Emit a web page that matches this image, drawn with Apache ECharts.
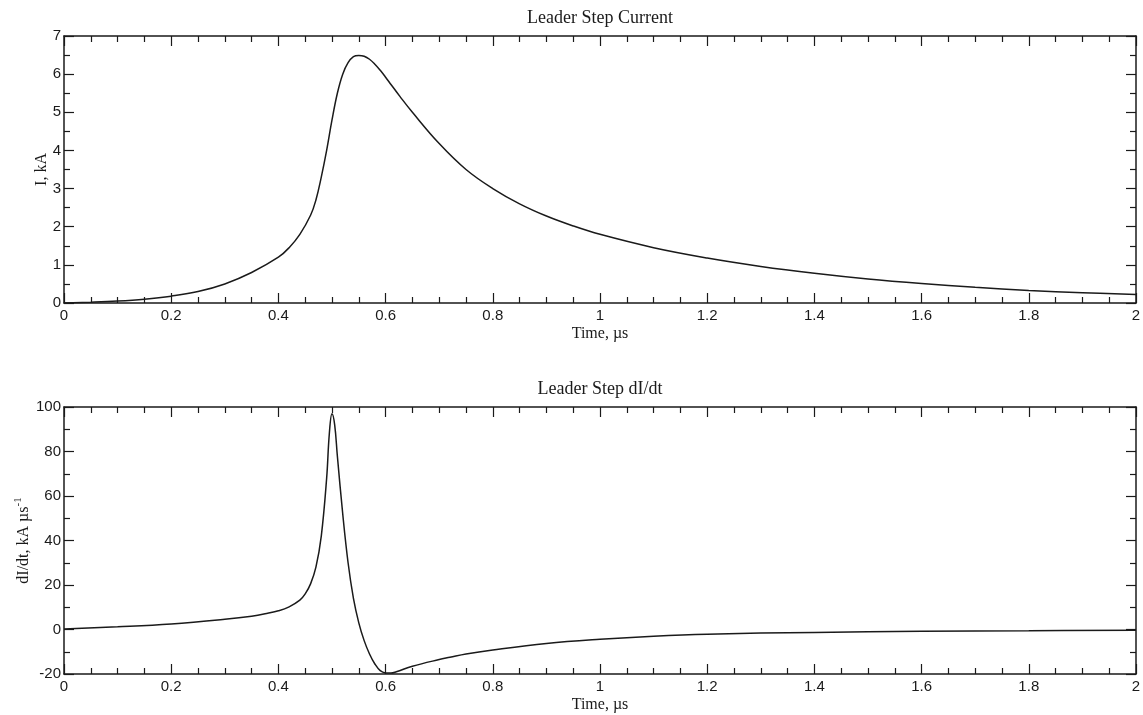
<!DOCTYPE html>
<html>
<head>
<meta charset="utf-8">
<title>Leader Step Current and dI/dt</title>
<script src="https://cdn.jsdelivr.net/npm/echarts@6/dist/echarts.min.js"></script>
<style>
  html, body { margin: 0; padding: 0; background: #ffffff; }
  #chart { width: 1143px; height: 715px; }
</style>
</head>
<body>
<div id="chart"></div>
<script>
// Leader step current waveform, I (kA) against time (µs)
const currentTime = [0, 0.05, 0.1, 0.15, 0.2, 0.25, 0.3, 0.35, 0.4, 0.42, 0.44, 0.46, 0.47, 0.48, 0.49, 0.5, 0.51, 0.52, 0.53, 0.54, 0.55, 0.56, 0.57, 0.58, 0.59, 0.6, 0.61, 0.627, 0.65, 0.7, 0.75, 0.8, 0.85, 0.9, 0.95, 1.0, 1.1, 1.2, 1.3, 1.4, 1.5, 1.6, 1.7, 1.8, 1.9, 2.0];
const currentKA   = [0.0, 0.02, 0.05, 0.1, 0.18, 0.3, 0.5, 0.8, 1.2, 1.45, 1.8, 2.3, 2.7, 3.3, 4.0, 4.8, 5.5, 6.0, 6.3, 6.46, 6.49, 6.47, 6.39, 6.26, 6.1, 5.92, 5.73, 5.41, 5.0, 4.18, 3.5, 3.0, 2.6, 2.28, 2.02, 1.8, 1.45, 1.18, 0.96, 0.78, 0.63, 0.51, 0.41, 0.33, 0.27, 0.22];

// Time derivative of the same waveform, dI/dt (kA/µs)
const derivTime = [0, 0.1, 0.2, 0.3, 0.35, 0.38, 0.4, 0.42, 0.44, 0.45, 0.46, 0.47, 0.48, 0.49, 0.495, 0.5, 0.505, 0.51, 0.52, 0.53, 0.54, 0.55, 0.56, 0.57, 0.58, 0.59, 0.6, 0.61, 0.62, 0.65, 0.7, 0.72, 0.75, 0.8, 0.9, 1.0, 1.1, 1.2, 1.4, 1.6, 1.8, 2.0];
const derivKAus = [0.2, 1.2, 2.5, 4.6, 6.0, 7.3, 8.4, 10.2, 13.2, 16.0, 20.5, 28.0, 42.0, 68.0, 88.0, 97.0, 92.0, 78.0, 52.0, 30.0, 14.0, 3.0, -5.0, -11.0, -15.5, -18.5, -19.5, -19.6, -19.0, -16.5, -13.5, -12.5, -11.0, -9.2, -6.3, -4.4, -3.0, -2.1, -1.3, -0.8, -0.55, -0.35];

// Axis ranges and tick spacing
const timeRange = { min: 0, max: 2, interval: 0.2 };
const currentRange = { min: 0, max: 7, interval: 1 };
const derivRange = { min: -20, max: 100, interval: 20 };

const ink = '#1a1a1a';
const serif = '"Liberation Serif", "Times New Roman", serif';
const sans = '"Liberation Sans", Arial, sans-serif';

function pairs(xs, ys) {
  return xs.map((x, i) => [x, ys[i]]);
}

// One bottom/left axis carries labels; the mirrored top/right axis only draws ticks
function xAxes(gridIndex) {
  const common = {
    type: 'value', gridIndex,
    min: timeRange.min, max: timeRange.max, interval: timeRange.interval,
    axisLine: { show: true, onZero: false, lineStyle: { color: ink, width: 1.5 } },
    axisTick: { show: true, inside: true, length: 10, lineStyle: { color: ink, width: 1.2 } },
    minorTick: { show: true, splitNumber: 4, length: 6, lineStyle: { color: ink, width: 1.2 } },
    splitLine: { show: false }
  };
  return [
    Object.assign({}, common, {
      position: 'bottom',
      name: 'Time, µs', nameLocation: 'middle', nameGap: 23, nameMoveOverlap: false,
      nameTextStyle: { fontFamily: serif, fontSize: 16, color: ink },
      axisLabel: { show: true, fontFamily: sans, fontSize: 15, color: ink, margin: 5,
        formatter: v => String(+v.toFixed(1)) }
    }),
    Object.assign({}, common, { position: 'top', axisLabel: { show: false } })
  ];
}

function yAxes(gridIndex, range, minorSplit, name, nameGap, nameStyle) {
  const common = {
    type: 'value', gridIndex,
    min: range.min, max: range.max, interval: range.interval,
    axisLine: { show: true, onZero: false, lineStyle: { color: ink, width: 1.5 } },
    axisTick: { show: true, inside: true, length: 10, lineStyle: { color: ink, width: 1.2 } },
    minorTick: { show: true, splitNumber: minorSplit, length: 6, lineStyle: { color: ink, width: 1.2 } },
    splitLine: { show: false }
  };
  return [
    Object.assign({}, common, {
      position: 'left',
      name, nameLocation: 'middle', nameGap, nameRotate: 90, nameMoveOverlap: false,
      nameTextStyle: nameStyle,
      axisLabel: { show: true, fontFamily: sans, fontSize: 15, color: ink, margin: 3 }
    }),
    Object.assign({}, common, { position: 'right', axisLabel: { show: false } })
  ];
}

const chart = echarts.init(document.getElementById('chart'), null, { renderer: 'canvas' });

chart.setOption({
  animation: false,
  backgroundColor: '#ffffff',
  title: [
    { text: 'Leader Step Current', left: 600, top: 9, textAlign: 'center', padding: 0,
      textStyle: { fontFamily: serif, fontSize: 18, fontWeight: 'normal', color: ink } },
    { text: 'Leader Step dI/dt', left: 600, top: 380, textAlign: 'center', padding: 0,
      textStyle: { fontFamily: serif, fontSize: 18, fontWeight: 'normal', color: ink } }
  ],
  grid: [
    { left: 64, right: 7, top: 36, height: 267, outerBoundsMode: 'none' },
    { left: 64, right: 7, top: 407, height: 267, outerBoundsMode: 'none' }
  ],
  xAxis: [].concat(xAxes(0), xAxes(1)),
  yAxis: [].concat(
    yAxes(0, currentRange, 2, 'I, kA', 14,
      { fontFamily: serif, fontSize: 16, color: ink }),
    yAxes(1, derivRange, 2, '{a|dI/dt, kA µs}{b|-1}', 29,
      { color: ink, rich: {
        a: { fontFamily: serif, fontSize: 16, color: ink, lineHeight: 22 },
        b: { fontFamily: serif, fontSize: 11, color: ink, lineHeight: 22, verticalAlign: 'top' }
      } })
  ),
  series: [
    { type: 'line', name: 'I', xAxisIndex: 0, yAxisIndex: 0,
      data: pairs(currentTime, currentKA), showSymbol: false,
      smooth: 0.4,
      lineStyle: { color: ink, width: 1.5 } },
    { type: 'line', name: 'dI/dt', xAxisIndex: 2, yAxisIndex: 2,
      data: pairs(derivTime, derivKAus), showSymbol: false,
      smooth: 0.4,
      lineStyle: { color: ink, width: 1.5 } }
  ]
});
</script>
</body>
</html>
